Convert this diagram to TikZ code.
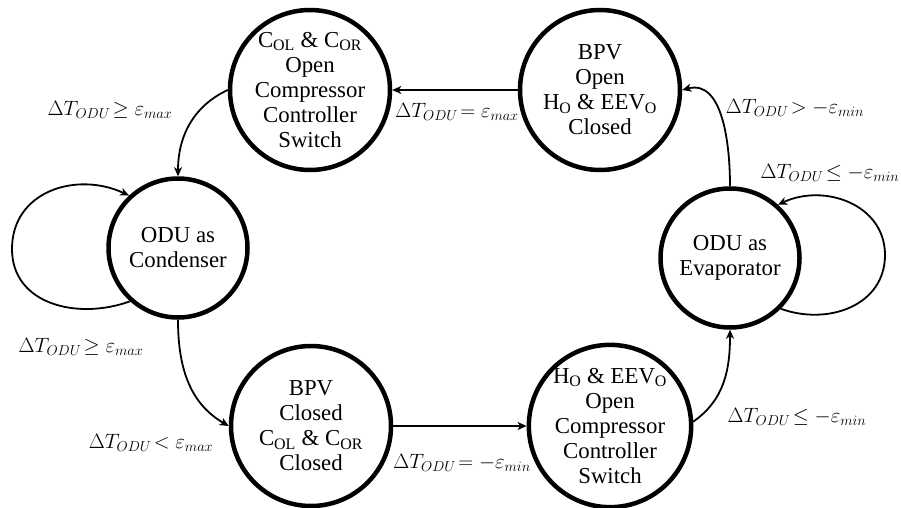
\documentclass[tikz,border=0pt]{standalone}
\usepackage{fontspec}
\setmainfont{Liberation Serif}
\usetikzlibrary{arrows.meta}
\begin{document}
\begin{tikzpicture}[x=1pt,y=1pt,
  state/.style={circle, draw, line width=4.5pt, inner sep=0pt, align=center,
    font=\fontsize{22.8}{25}\selectfont},
  bigstate/.style={state, minimum size=160pt},
  smallstate/.style={state, minimum size=139pt},
  trans/.style={-{Stealth[length=9pt,width=8pt,inset=2.5pt]}, line width=1.8pt},
  lab/.style={font=\fontsize{20.5}{24}\selectfont, inner sep=0pt}]
\useasboundingbox (0,0) rectangle (901,507);

\node[bigstate] (cl) at (310,417) {C\textsubscript{OL} \& C\textsubscript{OR}\\Open\\Compressor\\Controller\\Switch};
\node[bigstate] (bo) at (600,417) {BPV\\Open\\H\textsubscript{O} \& EEV\textsubscript{O}\\Closed};
\node[smallstate] (cond) at (178,259) {ODU as\\Condenser};
\node[smallstate] (evap) at (730,249) {ODU as\\Evaporator};
\node[bigstate] (bc) at (311,81) {BPV\\Closed\\C\textsubscript{OL} \& C\textsubscript{OR}\\Closed};
\node[bigstate] (ho) at (610,81) {H\textsubscript{O} \& EEV\textsubscript{O}\\Open\\Compressor\\Controller\\Switch};

\coordinate (lft) at (12,258);
\coordinate (rgt) at (885,252);

\draw[trans] (bo) -- (cl);
\draw[trans] (cl.180) to[out=205,in=90] (cond.90);
\draw[trans] (cond.228) to[out=200,in=270,looseness=1.1] (lft) to[out=90,in=155,looseness=1.15] (cond.133);
\draw[trans] (cond.270) to[out=270,in=150] (bc.180);
\draw[trans] (bc) -- (ho);
\draw[trans] (ho.3) to[out=35,in=270] (evap.270);
\draw[trans] (evap.315) to[out=-20,in=270,looseness=1.1] (rgt) to[out=90,in=25,looseness=1.1] (evap.48);
\draw[trans] (evap.90) to[out=90,in=15] (bo.0);

\node[lab] (l1) at (457,395) {$\Delta T_{ODU}\!= \varepsilon_{max}$};
\node[lab] (l2) at (110,397) {$\Delta T_{ODU}\!\geq \varepsilon_{max}$};
\node[lab] (l3) at (81,160) {$\Delta T_{ODU}\!\geq \varepsilon_{max}$};
\node[lab] (l4) at (151,64) {$\Delta T_{ODU}\!< \varepsilon_{max}$};
\node[lab] (l5) at (462,44) {$\Delta T_{ODU}\!= -\varepsilon_{min}$};
\node[lab] (l6) at (797,90) {$\Delta T_{ODU}\!\leq -\varepsilon_{min}$};
\node[lab] (l7) at (830,334) {$\Delta T_{ODU}\!\leq -\varepsilon_{min}$};
\node[lab] (l8) at (795,399) {$\Delta T_{ODU}\!> -\varepsilon_{min}$};
\end{tikzpicture}
\end{document}
